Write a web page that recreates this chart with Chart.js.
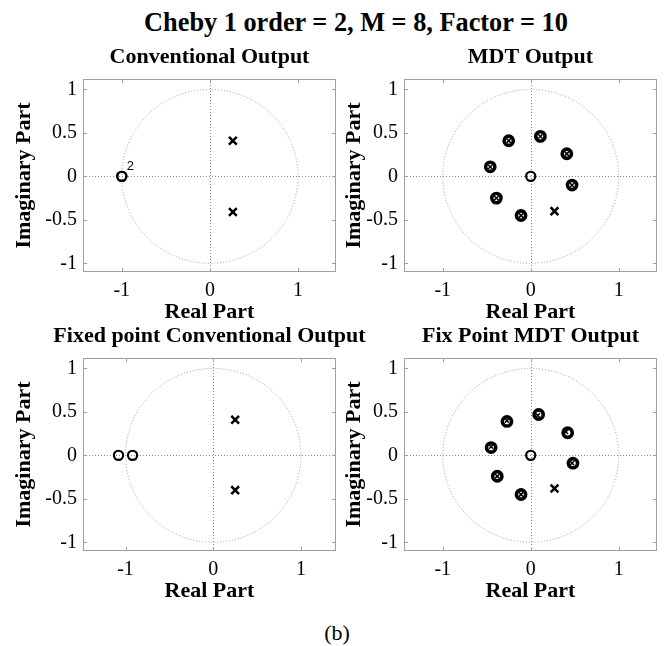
<!DOCTYPE html>
<html>
<head>
<meta charset="utf-8">
<title>Cheby 1 pole-zero plots</title>
<script src="https://cdn.jsdelivr.net/npm/chart.js@4.4.1/dist/chart.umd.min.js"></script>
<style>
  html, body { margin: 0; padding: 0; background: #fff; overflow: hidden; }
  body { width: 671px; height: 646px; position: relative; font-family: "Liberation Serif", "Times New Roman", serif; }
  #maintitle { position: absolute; left: 56px; width: 600px; top: 10px; text-align: center; font-weight: bold;
               font-size: 26.3px; line-height: 26px; color: #000; white-space: nowrap; }
  #caption { position: absolute; left: 237px; width: 200px; top: 622px; text-align: center;
             font-size: 22px; line-height: 22px; color: #000; }
  canvas { position: absolute; }
</style>
</head>
<body>
<div id="maintitle">Cheby 1 order = 2, M = 8, Factor = 10</div>
<canvas id="c1" width="419" height="300" style="left:0px;top:30px;width:419px;height:300px"></canvas>
<canvas id="c2" width="419" height="300" style="left:321px;top:30px;width:419px;height:300px"></canvas>
<canvas id="c3" width="419" height="300" style="left:0px;top:309px;width:419px;height:300px"></canvas>
<canvas id="c4" width="419" height="300" style="left:321px;top:309px;width:419px;height:300px"></canvas>
<div id="caption">(b)</div>

<script>
// ---- tick labels ----
const xTicks = [-1, 0, 1];
const xTickLabels = ['-1', '0', '1'];
const yTicks = [-1, -0.5, 0, 0.5, 1];
const yTickLabels = ['-1', '-0.5', '0', '0.5', '1'];

const subplotTitles = ['Conventional Output', 'MDT Output', 'Fixed point Conventional Output', 'Fix Point MDT Output'];

// ---- conventional (double zero at -1) ----
const convZerosRe = [-1, -1];
const convZerosIm = [0, 0];
const convPolesRe = [0.26, 0.26];
const convPolesIm = [0.41, -0.41];

// ---- MDT ----
const mdtZerosRe = [0, -0.25, 0.11, 0.41, -0.46, 0.47, -0.39, -0.11];
const mdtZerosIm = [0, 0.41, 0.46, 0.26, 0.11, -0.10, -0.25, -0.45];
const mdtPolesRe = [0.27, -0.25, 0.11, 0.41, -0.46, 0.47, -0.39, -0.11];
const mdtPolesIm = [-0.40, 0.41, 0.46, 0.26, 0.11, -0.10, -0.25, -0.45];

// ---- fixed point conventional ----
const fxConvZerosRe = [-1.08, -0.92];
const fxConvZerosIm = [0, 0];
const fxConvPolesRe = [0.25, 0.25];
const fxConvPolesIm = [0.41, -0.40];

// ---- fixed point MDT ----
const fxMdtZerosRe = [0, -0.27, 0.09, 0.42, -0.45, 0.48, -0.38, -0.11];
const fxMdtZerosIm = [0, 0.39, 0.47, 0.26, 0.09, -0.09, -0.24, -0.45];
const fxMdtPolesRe = [0.27, -0.27, 0.08, 0.40, -0.45, 0.47, -0.38, -0.11];
const fxMdtPolesIm = [-0.38, 0.40, 0.46, 0.27, 0.10, -0.09, -0.24, -0.45];

const SERIF = '"Liberation Serif", "Times New Roman", serif';

// unit circle, dotted zero lines, box with inward ticks, multiplicity labels
const zplaneDecor = {
    id: 'zplaneDecor',
    beforeDatasetsDraw(chart) {
        const ctx = chart.ctx;
        const a = chart.chartArea;
        const x = chart.scales.x, y = chart.scales.y;
        const cx = x.getPixelForValue(0), cy = y.getPixelForValue(0);

        ctx.save();
        ctx.beginPath();
        ctx.rect(a.left, a.top, a.right - a.left, a.bottom - a.top);
        ctx.clip();
        ctx.lineWidth = 1;
        ctx.setLineDash([1, 2]);
        ctx.strokeStyle = '#9a9a9a';
        ctx.beginPath();
        ctx.ellipse(cx, cy, x.getPixelForValue(1) - cx, cy - y.getPixelForValue(1), 0, 0, Math.PI * 2);
        ctx.stroke();
        ctx.strokeStyle = '#8a8a8a';
        ctx.beginPath();
        ctx.moveTo(a.left, Math.round(cy) + 0.5);
        ctx.lineTo(a.right, Math.round(cy) + 0.5);
        ctx.moveTo(Math.round(cx) + 0.5, a.top);
        ctx.lineTo(Math.round(cx) + 0.5, a.bottom);
        ctx.stroke();
        ctx.restore();

        ctx.save();
        ctx.strokeStyle = '#a0a0a0';
        ctx.lineWidth = 1;
        ctx.strokeRect(a.left + 0.5, a.top + 0.5, a.right - a.left - 1, a.bottom - a.top - 1);
        ctx.beginPath();
        x.ticks.forEach(t => {
            const px = Math.round(x.getPixelForValue(t.value)) + 0.5;
            ctx.moveTo(px, a.top); ctx.lineTo(px, a.top + 4);
            ctx.moveTo(px, a.bottom); ctx.lineTo(px, a.bottom - 4);
        });
        y.ticks.forEach(t => {
            const py = Math.round(y.getPixelForValue(t.value)) + 0.5;
            ctx.moveTo(a.left, py); ctx.lineTo(a.left + 4, py);
            ctx.moveTo(a.right, py); ctx.lineTo(a.right - 4, py);
        });
        ctx.stroke();
        ctx.restore();
    },
    afterDatasetsDraw(chart, args, opts) {
        const ctx = chart.ctx;
        const x = chart.scales.x, y = chart.scales.y;
        ctx.save();
        ctx.fillStyle = '#000';
        ctx.font = '13px "Liberation Sans", Arial, sans-serif';
        ctx.textAlign = 'left';
        ctx.textBaseline = 'middle';
        (opts.labels || []).forEach(l => {
            ctx.fillText(l.text, x.getPixelForValue(l.re) + 5, y.getPixelForValue(l.im) - 10);
        });
        ctx.restore();
    }
};

function makePlane(id, title, zRe, zIm, pRe, pIm, xMin, xMax, yTitlePad) {
    const zeros = zRe.map((v, i) => ({ x: v, y: zIm[i] }));
    const poles = pRe.map((v, i) => ({ x: v, y: pIm[i] }));
    const near = (p, list) => list.some(q => Math.hypot(p.x - q.x, p.y - q.y) < 0.06);

    // multiplicity of repeated zeros, as zplane writes it
    const labels = [];
    const seen = [];
    zeros.forEach(z => {
        if (seen.some(s => s.x === z.x && s.y === z.y)) return;
        seen.push(z);
        const n = zeros.filter(s => s.x === z.x && s.y === z.y).length;
        if (n > 1) labels.push({ re: z.x, im: z.y, text: String(n) });
    });

    new Chart(document.getElementById(id), {
        type: 'scatter',
        data: {
            datasets: [
                {
                    label: 'zeros',
                    data: zeros,
                    pointStyle: 'circle',
                    pointRadius: 4.6,
                    pointBorderWidth: c => near(c.raw, poles) ? 3.6 : 2.2,
                    borderColor: '#000',
                    backgroundColor: 'rgba(0,0,0,0)'
                },
                {
                    label: 'poles',
                    data: poles,
                    pointStyle: 'crossRot',
                    pointRadius: c => near(c.raw, zeros) ? 3 : 5.5,
                    pointBorderWidth: c => near(c.raw, zeros) ? 1.5 : 2.5,
                    borderColor: '#000',
                    backgroundColor: '#000'
                }
            ]
        },
        options: {
            responsive: false,
            animation: false,
            devicePixelRatio: 1,
            events: [],
            layout: { padding: 0 },
            plugins: {
                legend: { display: false },
                tooltip: { enabled: false },
                title: {
                    display: true,
                    text: title,
                    color: '#000',
                    font: { family: SERIF, size: 22, weight: 'bold', lineHeight: 1.2 },
                    padding: { top: 14, bottom: 8.6 }
                },
                zplaneDecor: { labels: labels }
            },
            scales: {
                x: {
                    type: 'linear',
                    min: xMin,
                    max: xMax,
                    grid: { display: false, drawTicks: false },
                    border: { display: false },
                    afterBuildTicks: s => { s.ticks = xTicks.map(v => ({ value: v })); },
                    afterFit: s => { s.height = 58; },
                    ticks: {
                        autoSkip: false,
                        maxRotation: 0,
                        padding: 7,
                        color: '#000',
                        font: { family: SERIF, size: 20 },
                        callback: (v, i) => xTickLabels[i]
                    },
                    title: {
                        display: true,
                        text: 'Real Part',
                        color: '#000',
                        font: { family: SERIF, size: 22, weight: 'bold', lineHeight: 1.2 },
                        padding: { top: 0, bottom: 4 }
                    }
                },
                y: {
                    type: 'linear',
                    min: -1.1,
                    max: 1.12,
                    grid: { display: false, drawTicks: false },
                    border: { display: false },
                    afterBuildTicks: s => { s.ticks = yTicks.map(v => ({ value: v })); },
                    afterFit: s => { s.width = 83; },
                    ticks: {
                        autoSkip: false,
                        padding: 6,
                        color: '#000',
                        font: { family: SERIF, size: 20 },
                        callback: (v, i) => yTickLabels[i]
                    },
                    title: {
                        display: true,
                        text: 'Imaginary Part',
                        color: '#000',
                        font: { family: SERIF, size: 22, weight: 'bold', lineHeight: 1.2 },
                        padding: { top: yTitlePad, bottom: 0 }
                    }
                },
                // empty right-hand spacer so the plot box sits in the middle of the canvas
                ySpacer: {
                    type: 'linear',
                    position: 'right',
                    min: -1.1,
                    max: 1.12,
                    grid: { display: false, drawTicks: false },
                    border: { display: false },
                    ticks: { display: false },
                    afterFit: s => { s.width = 83; }
                }
            }
        },
        plugins: [zplaneDecor]
    });
}

makePlane('c1', subplotTitles[0], convZerosRe, convZerosIm, convPolesRe, convPolesIm, -1.44, 1.43, 10.8);
makePlane('c2', subplotTitles[1], mdtZerosRe, mdtZerosIm, mdtPolesRe, mdtPolesIm, -1.44, 1.435, 19.8);
makePlane('c3', subplotTitles[2], fxConvZerosRe, fxConvZerosIm, fxConvPolesRe, fxConvPolesIm, -1.485, 1.40, 10.8);
makePlane('c4', subplotTitles[3], fxMdtZerosRe, fxMdtZerosIm, fxMdtPolesRe, fxMdtPolesIm, -1.44, 1.435, 19.8);
</script>
</body>
</html>
